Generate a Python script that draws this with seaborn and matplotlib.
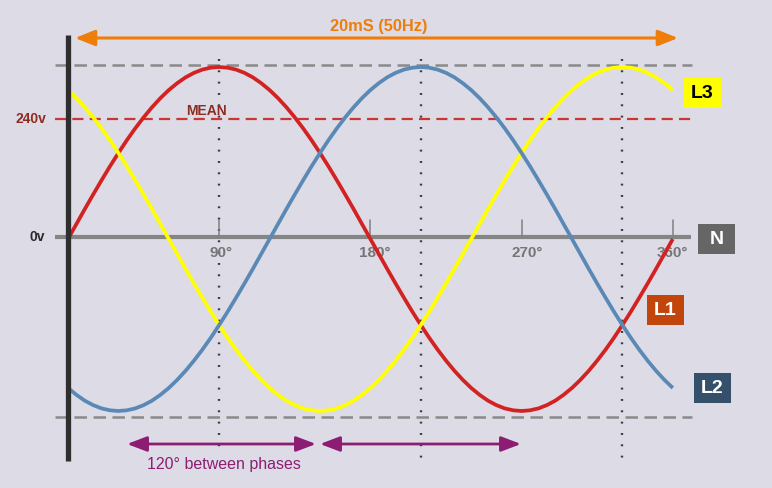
import matplotlib
matplotlib.use("Agg")
import matplotlib.pyplot as plt
import seaborn as sns
import pandas as pd
from matplotlib.patches import Rectangle

angles = list(range(0, 361, 5))

l1 = [0.000, 0.087, 0.174, 0.259, 0.342, 0.423, 0.500, 0.574, 0.643, 0.707,
      0.766, 0.819, 0.866, 0.906, 0.940, 0.966, 0.985, 0.996, 1.000,
      0.996, 0.985, 0.966, 0.940, 0.906, 0.866, 0.819, 0.766, 0.707,
      0.643, 0.574, 0.500, 0.423, 0.342, 0.259, 0.174, 0.087, 0.000,
      -0.087, -0.174, -0.259, -0.342, -0.423, -0.500, -0.574, -0.643, -0.707,
      -0.766, -0.819, -0.866, -0.906, -0.940, -0.966, -0.985, -0.996, -1.000,
      -0.996, -0.985, -0.966, -0.940, -0.906, -0.866, -0.819, -0.766, -0.707,
      -0.643, -0.574, -0.500, -0.423, -0.342, -0.259, -0.174, -0.087, 0.000]
l2 = [-0.866, -0.906, -0.940, -0.966, -0.985, -0.996, -1.000,
      -0.996, -0.985, -0.966, -0.940, -0.906, -0.866, -0.819, -0.766, -0.707,
      -0.643, -0.574, -0.500, -0.423, -0.342, -0.259, -0.174, -0.087, 0.000,
      0.087, 0.174, 0.259, 0.342, 0.423, 0.500, 0.574, 0.643, 0.707,
      0.766, 0.819, 0.866, 0.906, 0.940, 0.966, 0.985, 0.996, 1.000,
      0.996, 0.985, 0.966, 0.940, 0.906, 0.866, 0.819, 0.766, 0.707,
      0.643, 0.574, 0.500, 0.423, 0.342, 0.259, 0.174, 0.087, 0.000,
      -0.087, -0.174, -0.259, -0.342, -0.423, -0.500, -0.574, -0.643, -0.707,
      -0.766, -0.819, -0.866]
l3 = [0.866, 0.819, 0.766, 0.707, 0.643, 0.574, 0.500, 0.423, 0.342, 0.259,
      0.174, 0.087, 0.000,
      -0.087, -0.174, -0.259, -0.342, -0.423, -0.500, -0.574, -0.643, -0.707,
      -0.766, -0.819, -0.866, -0.906, -0.940, -0.966, -0.985, -0.996, -1.000,
      -0.996, -0.985, -0.966, -0.940, -0.906, -0.866, -0.819, -0.766, -0.707,
      -0.643, -0.574, -0.500, -0.423, -0.342, -0.259, -0.174, -0.087, 0.000,
      0.087, 0.174, 0.259, 0.342, 0.423, 0.500, 0.574, 0.643, 0.707,
      0.766, 0.819, 0.866, 0.906, 0.940, 0.966, 0.985, 0.996, 1.000,
      0.996, 0.985, 0.966, 0.940, 0.906, 0.866]

phase_names = ["L1", "L3", "L2"]
line_colors = {"L1": "#d22222", "L2": "#5a89b6", "L3": "#ffff00"}
box_colors = {"L1": "#c2460c", "L2": "#34506a", "L3": "#ffff00", "N": "#666666"}
box_text = {"L1": "white", "L2": "white", "L3": "black", "N": "white"}

tick_angles = [90, 180, 270, 360]
tick_labels = ["90°", "180°", "270°", "360°"]
peak_angles = [90, 210, 330]
mean_level = 0.70
peak_level = 1.012
trough_level = -1.035

# pixel <-> data mapping so annotations land where the original has them
W, H = 772, 488
X0, XS = 68, 1.68
Y0, YS = 239, 172


def dx(px):
    return (px - X0) / XS


def dy(py):
    return (Y0 - py) / YS


def main():
    bg = "#dddce6"
    sns.set_theme(style="white", rc={"axes.facecolor": bg, "figure.facecolor": bg})
    plt.rcParams["font.family"] = ["Liberation Sans", "DejaVu Sans"]

    df = pd.concat([
        pd.DataFrame({"angle": angles, "value": l1, "phase": "L1"}),
        pd.DataFrame({"angle": angles, "value": l2, "phase": "L2"}),
        pd.DataFrame({"angle": angles, "value": l3, "phase": "L3"}),
    ])

    fig = plt.figure(figsize=(7.72, 4.88), dpi=100)
    ax = fig.add_axes([0, 0, 1, 1])
    ax.set_xlim(dx(0), dx(W))
    ax.set_ylim(dy(H), dy(0))
    ax.set_axis_off()

    sns.lineplot(data=df, x="angle", y="value", hue="phase", hue_order=phase_names,
                 palette=line_colors, linewidth=2.7, legend=False, sort=False,
                 ax=ax, zorder=3, solid_joinstyle="round", solid_capstyle="butt")

    # peak / trough guides and the mean level
    for lvl in (peak_level, trough_level):
        ax.plot([dx(55), dx(692)], [lvl, lvl], color="#8a8a8a", lw=1.8,
                ls=(0, (5, 2.6)), zorder=1)
    ax.plot([dx(55), dx(692)], [mean_level, mean_level], color="#cc3535", lw=1.6,
            ls=(0, (5, 2.8)), zorder=1)

    # dotted verticals at each phase peak
    for a in peak_angles:
        bottom = 447 if a == 90 else 458
        ax.plot([a, a], [dy(59), dy(bottom)], color="#3a3a3a", lw=1.7,
                ls=(0, (0.8, 4.0)), zorder=1)

    # neutral axis and vertical axis
    ax.plot([dx(55), dx(691)], [dy(237), dy(237)], color="#858585", lw=3, zorder=2,
            solid_capstyle="butt")
    ax.plot([0, 0], [dy(35), dy(461)], color="#2e2e2e", lw=3.8, zorder=4,
            solid_capstyle="butt")

    label_centers = [221, 375, 527, 672]
    for a, lab, cx in zip(tick_angles, tick_labels, label_centers):
        ax.plot([a, a], [dy(220), dy(237)], color="#808080", lw=1.1, zorder=2)
        ax.text(dx(cx), dy(253), lab, ha="center", va="center", fontsize=11,
                fontweight="bold", color="#767676", zorder=2)

    ax.text(dx(46), dy(119), "240v", ha="right", va="center", fontsize=10,
            fontweight="bold", color="#8e2c22")
    ax.text(dx(45), dy(237), "0v", ha="right", va="center", fontsize=10,
            fontweight="bold", color="#2a2a2a")
    ax.text(dx(206), dy(111), "MEAN", ha="center", va="center", fontsize=10,
            fontweight="bold", color="#8e2c22")

    # 20 ms period arrow
    ax.annotate("", xy=(dx(678), dy(38)), xytext=(dx(75), dy(38)),
                arrowprops=dict(arrowstyle="<|-|>,head_length=1.0,head_width=0.4",
                                color="#ee7d0a", lw=2.2, shrinkA=0, shrinkB=0))
    ax.text(dx(379), dy(27), "20mS (50Hz)", ha="center", va="center", fontsize=11.8,
            fontweight="bold", color="#ee7d0a")

    # 120 degree spacing arrows
    for x1, x2 in [(127, 316), (320, 521)]:
        ax.annotate("", xy=(dx(x2), dy(444)), xytext=(dx(x1), dy(444)),
                    arrowprops=dict(arrowstyle="<|-|>,head_length=1.0,head_width=0.38",
                                    color="#8c1d72", lw=2.0, shrinkA=0, shrinkB=0))
    ax.text(dx(224), dy(465), "120° between phases", ha="center", va="center",
            fontsize=11.5, color="#8c1d72")

    # phase tags
    boxes = {"L3": (684, 78), "N": (698, 224), "L1": (647, 295), "L2": (694, 373)}
    for name, (bx, by) in boxes.items():
        ax.add_patch(Rectangle((dx(bx), dy(by + 30)), dx(bx + 37) - dx(bx),
                               dy(by) - dy(by + 30), facecolor=box_colors[name],
                               edgecolor="none", zorder=5))
        ax.text(dx(bx + 18.5), dy(by + 15.5), name, ha="center", va="center",
                fontsize=14, fontweight="bold", color=box_text[name], zorder=6)

    fig.savefig("out.png", dpi=100)


if __name__ == "__main__":
    main()
